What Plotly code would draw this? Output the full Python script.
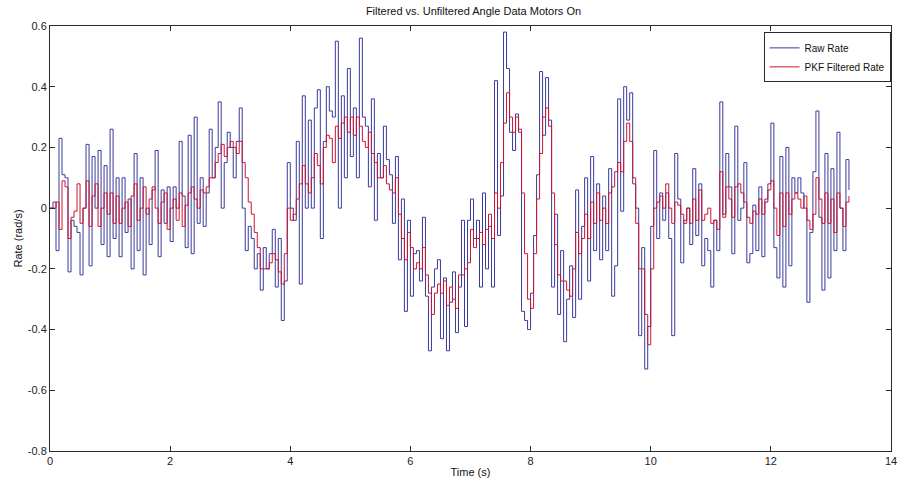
import plotly.graph_objects as go

SAMPLE_PERIOD = 0.05  # s

raw_rate = [
    0.0, 0.02, -0.14, 0.23, 0.11, 0.1, -0.21, -0.04, -0.06, -0.08,
    -0.22, 0.0, 0.21, -0.19, 0.17, 0.0, 0.19, -0.12, 0.14, -0.16,
    0.26, -0.1, 0.1, -0.16, 0.1, -0.08, 0.03, -0.2, 0.18, -0.14,
    0.1, -0.22, 0.0, -0.12, 0.06, 0.19, -0.16, 0.06, -0.05, 0.07,
    -0.11, 0.07, 0.0, 0.22, 0.04, -0.13, 0.24, -0.15, 0.3, -0.05,
    0.1, -0.06, 0.05, 0.26, 0.1, 0.2, 0.35, 0.0, 0.15, 0.25,
    0.2, 0.1, 0.22, 0.33, 0.0, -0.14, -0.06, -0.1, -0.2, -0.15,
    -0.27, -0.13, -0.2, -0.15, -0.07, -0.26, -0.1, -0.37, -0.24, 0.15,
    0.0, -0.04, 0.22, -0.25, 0.37, 0.0, 0.29, 0.0, 0.33, 0.39,
    -0.1, 0.22, 0.4, 0.32, 0.3, 0.55, 0.0, 0.37, 0.1, 0.46,
    0.17, 0.33, 0.1, 0.56, 0.3, 0.27, 0.07, 0.36, -0.04, 0.18,
    0.1, 0.27, 0.16, 0.11, -0.05, 0.17, -0.17, 0.03, -0.34, -0.04,
    -0.29, -0.15, -0.14, -0.24, -0.03, -0.29, -0.47, -0.26, -0.2, -0.17,
    -0.43, -0.23, -0.47, -0.31, -0.21, -0.41, -0.26, -0.04, -0.39, -0.04,
    0.03, -0.1, -0.04, -0.26, 0.05, -0.2, -0.06, -0.26, 0.42, -0.09,
    0.04, 0.58, 0.46, 0.25, 0.19, 0.31, 0.25, -0.34, -0.37, -0.4,
    -0.28, -0.09, 0.11, 0.45, 0.24, 0.43, 0.29, -0.26, -0.02, -0.35,
    -0.14, -0.44, -0.3, -0.19, -0.36, 0.06, -0.3, -0.06, 0.1, -0.24,
    0.17, -0.14, 0.08, -0.17, 0.04, -0.14, 0.13, -0.29, -0.19, 0.36,
    -0.01, 0.4, 0.29, 0.38, 0.08, 0.0, -0.42, -0.13, -0.53, -0.39,
    -0.06, 0.19, -0.1, 0.05, -0.04, 0.05, -0.1, -0.42, 0.18, 0.03,
    -0.18, -0.04, 0.0, -0.12, 0.13, -0.09, 0.08, -0.19, -0.1, -0.14,
    -0.26, -0.04, -0.14, 0.35, -0.02, 0.18, 0.07, -0.15, 0.27, -0.04,
    0.0, 0.15, -0.18, -0.15, 0.01, -0.14, 0.07, -0.16, 0.02, 0.08,
    0.28, -0.13, -0.23, 0.17, -0.26, 0.2, -0.19, 0.1, 0.05, 0.1,
    0.05, 0.0, -0.31, -0.08, 0.12, 0.32, -0.03, -0.27, 0.18, -0.23,
    0.13, -0.14, 0.25, 0.0, -0.14, 0.16, 0.06,
]

pkf_filtered_rate = [
    0.0, 0.0, 0.02, -0.07, 0.09, 0.07, -0.1, -0.03, -0.01, 0.08,
    -0.05, 0.0, 0.09, -0.06, 0.04, 0.08, -0.06, 0.0, 0.05, -0.02,
    0.05, -0.05, 0.04, -0.05, 0.0, 0.02, -0.06, 0.04, 0.08, -0.04,
    0.0, 0.07, -0.02, 0.03, 0.07, 0.0, -0.05, 0.02, 0.05, -0.07,
    0.0, 0.03, -0.04, 0.05, -0.06, 0.01, 0.05, 0.07, 0.03, 0.0,
    0.06, 0.05, 0.07, 0.1, 0.1, 0.15, 0.18, 0.21, 0.17, 0.2,
    0.22, 0.2, 0.18, 0.22, 0.15, 0.1, 0.02, -0.02, -0.08, -0.13,
    -0.2, -0.2, -0.2, -0.18, -0.15, -0.17, -0.21, -0.25, -0.15, 0.0,
    -0.04, -0.02, 0.03, 0.08, 0.14, 0.08, 0.05, 0.1, 0.18, 0.14,
    0.08, 0.2, 0.24, 0.23, 0.15, 0.27, 0.23, 0.28, 0.3, 0.25,
    0.3, 0.24, 0.3, 0.27, 0.22, 0.2, 0.25, 0.18, 0.15, 0.1,
    0.1, 0.14, 0.08, 0.06, 0.05, 0.1, -0.02, -0.1, -0.17, -0.08,
    -0.13, -0.2, -0.18, -0.2, -0.13, -0.22, -0.28, -0.35, -0.28, -0.25,
    -0.28, -0.24, -0.32, -0.26, -0.3, -0.33, -0.22, -0.22, -0.2, -0.18,
    -0.07, -0.13, -0.1, -0.08, -0.12, -0.07, -0.02, -0.1, 0.05, 0.0,
    0.15, 0.28, 0.38, 0.3, 0.25, 0.3, 0.26, 0.05, -0.15, -0.3,
    -0.33, -0.15, 0.03, 0.18, 0.3, 0.33, 0.27, 0.05, -0.12, -0.22,
    -0.24, -0.24, -0.27, -0.29, -0.2, -0.08, -0.15, -0.1, -0.02, -0.1,
    0.02, -0.05, 0.05, -0.04, 0.0, -0.05, 0.05, 0.07, 0.12, 0.15,
    0.12, 0.22, 0.28, 0.22, 0.1, -0.05, -0.2, -0.2, -0.35, -0.45,
    -0.2, 0.0, 0.02, 0.04, 0.0, 0.08, 0.0, -0.05, 0.02, 0.01,
    -0.02, -0.05, 0.0, -0.05, 0.03, -0.04, 0.06, -0.04, -0.02, 0.0,
    -0.05, -0.04, -0.07, 0.12, -0.03, 0.07, 0.03, -0.03, 0.07, 0.08,
    0.05, 0.02, -0.03, -0.05, -0.01, -0.02, 0.03, -0.02, 0.03, 0.06,
    0.09, 0.0, -0.09, 0.05, -0.06, 0.05, -0.02, 0.03, 0.05, 0.03,
    0.0, 0.04, -0.04, -0.07, -0.02, 0.1, 0.03, -0.05, 0.05, -0.05,
    0.03, -0.08, 0.05, 0.0, -0.06, 0.02, 0.04,
]

time_s = [round(i * SAMPLE_PERIOD, 3) for i in range(len(raw_rate))]

x_ticks = [0, 2, 4, 6, 8, 10, 12, 14]
y_ticks = [-0.8, -0.6, -0.4, -0.2, 0, 0.2, 0.4, 0.6]
y_tick_labels = ["-0.8", "-0.6", "-0.4", "-0.2", "0", "0.2", "0.4", "0.6"]

FONT = "Liberation Sans, Arial, sans-serif"
AXIS_COLOR = "#2a2a2a"

fig = go.Figure()
fig.add_trace(go.Scatter(
    x=time_s, y=raw_rate, name="Raw Rate", mode="lines",
    line=dict(color="#3a3a9c", width=1, shape="hv"),
))
fig.add_trace(go.Scatter(
    x=time_s, y=pkf_filtered_rate, name="PKF Filtered Rate", mode="lines",
    line=dict(color="#cc1430", width=1, shape="hv"),
))

axis_common = dict(
    showgrid=False, zeroline=False, showline=True, linecolor=AXIS_COLOR,
    linewidth=1, mirror="allticks", ticks="inside", ticklen=5,
    tickcolor=AXIS_COLOR, tickfont=dict(family=FONT, size=11, color="#222"),
)

fig.update_layout(
    width=905, height=485,
    margin=dict(l=50, r=8, t=26, b=33),
    paper_bgcolor="white", plot_bgcolor="white",
    title=dict(text="Filtered vs. Unfiltered Angle Data Motors On",
               x=0.5232, xanchor="center", y=0.978, yanchor="middle",
               font=dict(family=FONT, size=11, color="#111")),
    xaxis=dict(range=[0, 14], tickvals=x_ticks,
               title=dict(text="Time (s)", standoff=2,
                          font=dict(family=FONT, size=11, color="#111")),
               **axis_common),
    yaxis=dict(range=[-0.8, 0.6], tickvals=y_ticks, ticktext=y_tick_labels,
               title=dict(text="Rate (rad/s)", standoff=2,
                          font=dict(family=FONT, size=11, color="#111")),
               **axis_common),
    legend=dict(x=0.9995, y=0.985, xanchor="right", yanchor="top",
                bgcolor="white", bordercolor=AXIS_COLOR, borderwidth=1,
                font=dict(family=FONT, size=10, color="#111"),
                tracegroupgap=0, itemwidth=30),
    showlegend=True,
)

fig.write_html("out.html")
